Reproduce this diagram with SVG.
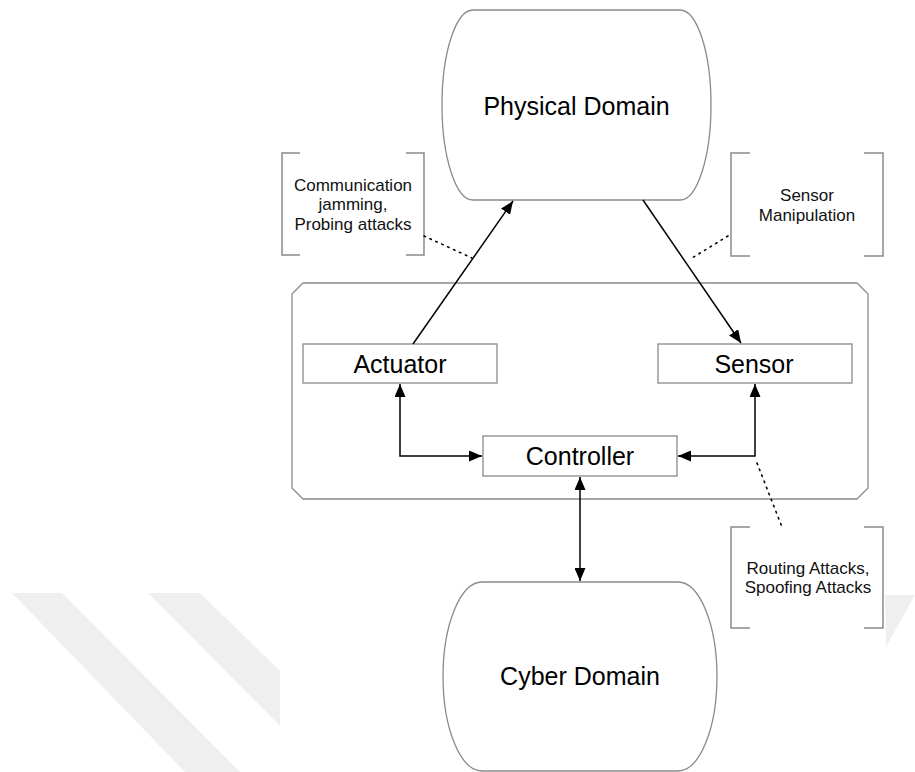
<svg xmlns="http://www.w3.org/2000/svg" width="915" height="772" viewBox="0 0 915 772">
  <style>
    .shape { fill: #ffffff; stroke: #8a8a8a; stroke-width: 1.3; }
    .bracket { fill: none; stroke: #8a8a8a; stroke-width: 1.5; }
    .link { fill: none; stroke: #000000; stroke-width: 1.5; }
    .dots { fill: none; stroke: #000000; stroke-width: 1.6; stroke-dasharray: 1.5 5; stroke-linecap: round; }
    .big { font-family: "Liberation Sans", Arial, Helvetica, sans-serif; font-size: 25px; fill: #000000; text-anchor: middle; }
    .note { font-family: "Liberation Sans", Arial, Helvetica, sans-serif; font-size: 17px; fill: #111111; text-anchor: middle; }
    .band { fill: #efefef; }
  </style>
  <defs>
    <marker id="arrow" viewBox="0 0 13 11" refX="13" refY="5.5" markerWidth="13" markerHeight="11" markerUnits="userSpaceOnUse" orient="auto-start-reverse">
      <path d="M0,0 L13,5.5 L0,11 Z" fill="#000000"/>
    </marker>
  </defs>

  <rect width="915" height="772" fill="#ffffff"/>

  <!-- light background bands -->
  <g id="bands">
    <polygon class="band" points="12,593 62,593 240,772 185,772"/>
    <polygon class="band" points="148,593 200,593 280,671 280,726"/>
    <polygon class="band" points="885,595 915,595 886,647"/>
  </g>

  <!-- system boundary -->
  <g id="system">
    <path class="shape" d="M303,283 H857 L868,294 V488 L857,499 H303 L292,488 V294 Z"/>
  </g>

  <g id="physical-domain">
    <path class="shape" d="M473,10 H680 A31,95 0 0 1 680,200 H473 A31,95 0 0 1 473,10 Z"/>
    <text class="big" x="576.5" y="115">Physical Domain</text>
  </g>

  <g id="cyber-domain">
    <path class="shape" d="M482,582 H678 A39,94.5 0 0 1 678,771 H482 A39,94.5 0 0 1 482,582 Z"/>
    <text class="big" x="580" y="685">Cyber Domain</text>
  </g>

  <g id="actuator">
    <rect class="shape" x="303" y="344" width="194" height="39"/>
    <text class="big" x="400" y="373">Actuator</text>
  </g>

  <g id="sensor">
    <rect class="shape" x="658" y="344" width="194" height="39"/>
    <text class="big" x="754" y="373">Sensor</text>
  </g>

  <g id="controller">
    <rect class="shape" x="483" y="436" width="194" height="40"/>
    <text class="big" x="580" y="465">Controller</text>
  </g>

  <g id="note-jamming">
    <path class="bracket" d="M300,153 H282 V255 H300"/>
    <path class="bracket" d="M406,153 H424 V255 H406"/>
    <text class="note" x="353" y="190.5">Communication</text>
    <text class="note" x="353" y="210">jamming,</text>
    <text class="note" x="353" y="229.5">Probing attacks</text>
  </g>

  <g id="note-sensor">
    <path class="bracket" d="M750,153 H731 V256 H750"/>
    <path class="bracket" d="M864,153 H883 V256 H864"/>
    <text class="note" x="807" y="201">Sensor</text>
    <text class="note" x="807" y="220.5">Manipulation</text>
  </g>

  <g id="note-routing">
    <rect x="731" y="527" width="152" height="101" fill="#ffffff"/>
    <path class="bracket" d="M750,527 H731 V628 H750"/>
    <path class="bracket" d="M864,527 H883 V628 H864"/>
    <text class="note" x="808" y="573.5">Routing Attacks,</text>
    <text class="note" x="808" y="593">Spoofing Attacks</text>
  </g>

  <g id="connectors">
    <path class="link" d="M580,477 V581" marker-start="url(#arrow)" marker-end="url(#arrow)"/>
    <path class="link" d="M400,384 V456 H482" marker-start="url(#arrow)" marker-end="url(#arrow)"/>
    <path class="link" d="M755,384 V456 H678" marker-start="url(#arrow)" marker-end="url(#arrow)"/>
    <path class="link" d="M413,344 L513,201" marker-end="url(#arrow)"/>
    <path class="link" d="M643,200 L741,343" marker-end="url(#arrow)"/>
    <path class="dots" d="M424,236 L472,258"/>
    <path class="dots" d="M728,236 L692,258"/>
    <path class="dots" d="M757,463 L782,527"/>
  </g>
</svg>
